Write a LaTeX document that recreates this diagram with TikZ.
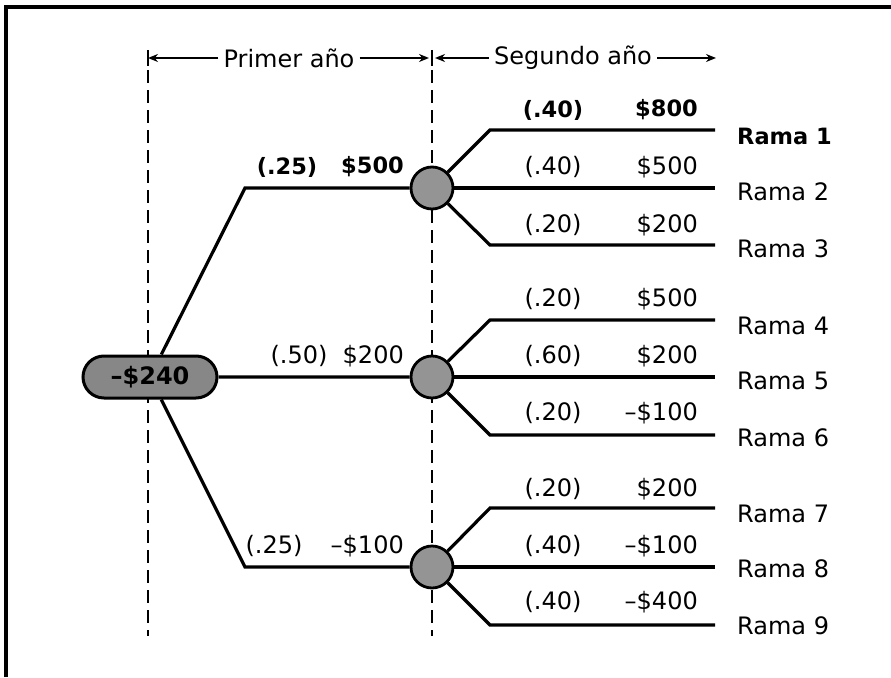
\documentclass[tikz,border=0pt]{standalone}
\usepackage{fontspec}
\setmainfont{DejaVu Sans}
\usetikzlibrary{arrows.meta,shapes.misc}

\tikzset{
  branch/.style={line width=3.2pt, line join=miter},
  divider/.style={line width=2.5pt, dash pattern=on 13pt off 7pt},
  chance/.style={circle, draw, line width=2.8pt, fill=black!42, minimum size=42pt, inner sep=0pt},
  decision/.style={rounded rectangle, draw, line width=3pt, fill=black!47,
    minimum width=134pt, minimum height=42pt, inner sep=0pt},
  txt/.style={inner sep=0pt, font=\fontsize{24}{28}\selectfont},
  btxt/.style={txt, font=\fontsize{22.5}{28}\selectfont\bfseries},
  header/.style={inner sep=5pt, font=\fontsize{24}{28}\selectfont},
  period/.style={line width=2pt, -{Stealth[length=10pt,width=8pt]}},
  tick/.style={line width=2pt}
}

\begin{document}
\begin{tikzpicture}[x=1pt,y=-1pt]
\useasboundingbox (0,0) rectangle (891,677);

% frame (top and left edges)
\draw[line width=4.5pt] (6,677) -- (6,7) -- (891,7);

% period dividers
\draw[divider] (148,70) -- (148,636);
\draw[divider] (432,70) -- (432,636);

% period headers
\node[header] (p1) at (289,58) {Primer año};
\node[header] (p2) at (573,58) {Segundo año};
\coordinate (h0) at (148,58);
\coordinate (h1) at (429,58);
\coordinate (h2) at (435,58);
\coordinate (h3) at (716,58);
\draw[period] (p1.west) -- (h0);
\draw[period] (p1.east) -- (h1);
\draw[period] (p2.west) -- (h2);
\draw[period] (p2.east) -- (h3);
\draw[tick] (148,50) -- (148,66);
\draw[tick] (432,50) -- (432,66);

% decision and chance nodes
\node[decision] (root) at (150,377) {\fontsize{24}{28}\selectfont\bfseries –\$240};
\node[chance] (c1) at (432,188) {};
\node[chance] (c2) at (432,377) {};
\node[chance] (c3) at (432,567) {};

% first-year branches
\coordinate (k1) at (245,188);
\coordinate (k3) at (245,567);
\draw[branch] (root) -- (k1) -- (c1);
\draw[branch] (root) -- (c2);
\draw[branch] (root) -- (k3) -- (c3);

% second-year branches
\foreach \c/\ya/\yb/\yc/\n in {c1/130/188/245/1, c2/320/377/435/4, c3/508/567/625/7}{
  \coordinate (u\n) at (490,\ya);
  \coordinate (d\n) at (490,\yc);
  \coordinate (ea\n) at (715,\ya);
  \coordinate (eb\n) at (715,\yb);
  \coordinate (ec\n) at (715,\yc);
  \draw[branch] (\c) -- (u\n) -- (ea\n);
  \draw[branch] (\c) -- (eb\n);
  \draw[branch] (\c) -- (d\n) -- (ec\n);
}

% first-year labels
\node[btxt] (q1) at (287,167) {(.25)};
\node[btxt, anchor=east] (v1) at (404,167) {\$500};
\node[txt] (q2) at (299,356) {(.50)};
\node[txt, anchor=east] (v2) at (404,356) {\$200};
\node[txt] (q3) at (274,546) {(.25)};
\node[txt, anchor=east] (v3) at (404,546) {–\$100};

% second-year labels
\node[btxt] (r1p) at (553,110) {(.40)};
\node[btxt, anchor=east] (r1v) at (698,110) {\$800};
\node[txt] (r2p) at (553,167) {(.40)};
\node[txt, anchor=east] (r2v) at (698,167) {\$500};
\node[txt] (r3p) at (553,225) {(.20)};
\node[txt, anchor=east] (r3v) at (698,225) {\$200};
\node[txt] (r4p) at (553,299) {(.20)};
\node[txt, anchor=east] (r4v) at (698,299) {\$500};
\node[txt] (r5p) at (553,356) {(.60)};
\node[txt, anchor=east] (r5v) at (698,356) {\$200};
\node[txt] (r6p) at (553,413) {(.20)};
\node[txt, anchor=east] (r6v) at (698,413) {–\$100};
\node[txt] (r7p) at (553,489) {(.20)};
\node[txt, anchor=east] (r7v) at (698,489) {\$200};
\node[txt] (r8p) at (553,546) {(.40)};
\node[txt, anchor=east] (r8v) at (698,546) {–\$100};
\node[txt] (r9p) at (553,602) {(.40)};
\node[txt, anchor=east] (r9v) at (698,602) {–\$400};

% branch names
\node[btxt, anchor=west] (n1) at (737,136) {Rama 1};
\node[txt, anchor=west] (n2) at (737,192) {Rama 2};
\node[txt, anchor=west] (n3) at (737,249) {Rama 3};
\node[txt, anchor=west] (n4) at (737,326) {Rama 4};
\node[txt, anchor=west] (n5) at (737,381) {Rama 5};
\node[txt, anchor=west] (n6) at (737,438) {Rama 6};
\node[txt, anchor=west] (n7) at (737,514) {Rama 7};
\node[txt, anchor=west] (n8) at (737,569) {Rama 8};
\node[txt, anchor=west] (n9) at (737,626) {Rama 9};
\end{tikzpicture}
\end{document}
